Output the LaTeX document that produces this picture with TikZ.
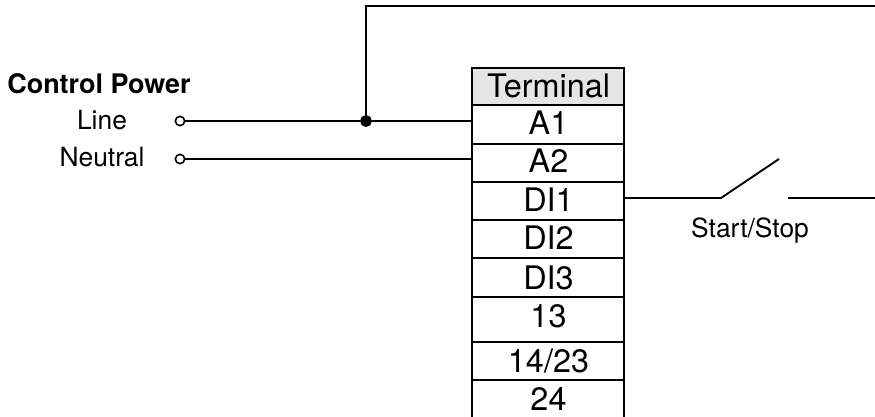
\documentclass[tikz,border=0pt]{standalone}
\usepackage{fontspec}
\setmainfont{TeX Gyre Heros}
\tikzset{
 wire/.style={black, line width=1.4pt},
 rule/.style={black, line width=1.9pt},
 cell/.style={inner sep=0, minimum width=114pt, text height=21pt, text depth=0pt, font=\fontsize{24.3}{26}\selectfont},
 lbl/.style={anchor=base, inner sep=0, font=\fontsize{19.8}{22}\selectfont},
 post/.style={draw, circle, inner sep=0, minimum size=7pt, line width=1.2pt, fill=white},
 dot/.style={draw, circle, fill=black, inner sep=0, minimum size=8.5pt}
}
\definecolor{headgray}{gray}{0.9}
\begin{document}
\begin{tikzpicture}[x=0.75pt, y=-0.75pt]
\useasboundingbox (0,0) rectangle (875,417);
\clip (0,0) rectangle (875,417);
% terminal strip
\fill[headgray] (472,68) rectangle (624,105);
\draw[rule] (472,430) -- (472,68) -- (624,68) -- (624,430);
\foreach \y in {105,144,182,220,258,297,342,380}
 \draw[rule] (472,\y) -- (624,\y);
\foreach \name/\y/\txt in {term/84/Terminal,a1/121/A1,a2/159/A2,di1/198/DI1,di2/236/DI2,di3/275/DI3,t13/313/13,t1423/358/14\slash 23,t24/396/24}
 \node[cell] (\name) at (548.5,\y) {\txt};
% control power
\node[lbl, font=\fontsize{20.2}{22}\selectfont\bfseries] (ctrl) at (99,94) {Control Power};
\node[lbl] (line) at (102,130) {Line};
\node[lbl] (neutral) at (102,167) {Neutral};
\node[post] (pl) at (180,121) {};
\node[post] (pn) at (180,159) {};
\node[dot] (junc) at (366,121) {};
\coordinate (topend) at (875,6);
\draw[wire] (pl) -- (junc) -- (a1.west);
\draw[wire] (pn) -- (a2.west);
\draw[wire] (junc) |- (topend);
% start/stop contact
\coordinate (swa) at (721,198);
\coordinate (swb) at (779,159);
\coordinate (swc) at (788,198);
\coordinate (swd) at (875,198);
\draw[wire] (di1.east) -- (swa) -- (swb);
\draw[wire] (swc) -- (swd);
\node[lbl] (startstop) at (750,238) {Start/Stop};
\end{tikzpicture}
\end{document}
